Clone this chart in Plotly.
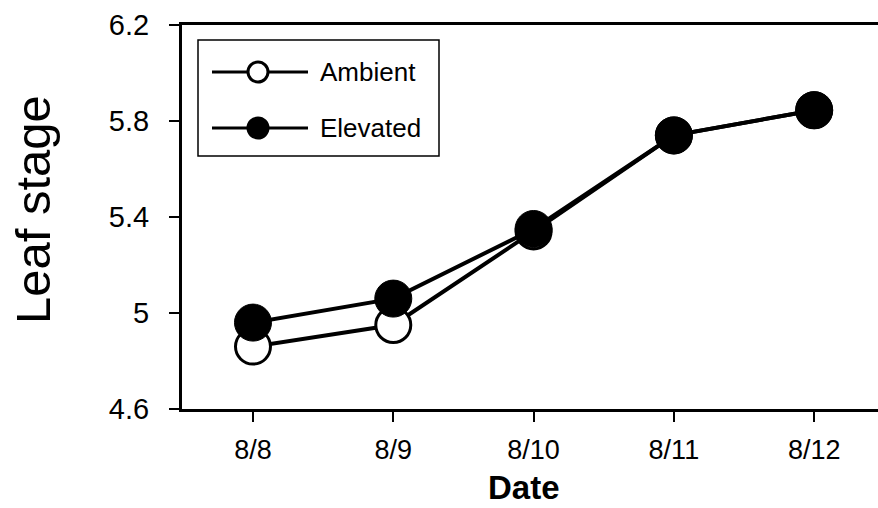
import plotly.graph_objects as go

dates = ["8/8", "8/9", "8/10", "8/11", "8/12"]
ambient = [4.86, 4.95, 5.34, 5.74, 5.845]
elevated = [4.96, 5.06, 5.35, 5.74, 5.845]
y_ticks = [4.6, 5.0, 5.4, 5.8, 6.2]
y_tick_text = ["4.6", "5", "5.4", "5.8", "6.2"]

W, H = 878, 508
L, R, T, B = 182, 0, 25, 99
pw, ph = W - L - R, H - T - B

# helpers: convert screenshot pixel positions to paper coordinates
def px(x):
    return (x - L) / pw

def py(y):
    return (H - B - y) / ph

FONT = "Liberation Sans, Arial, sans-serif"

fig = go.Figure()
fig.add_trace(go.Scatter(
    x=dates, y=ambient, mode="lines+markers", name="Ambient",
    line=dict(color="black", width=4),
    marker=dict(symbol="circle", size=35, color="white",
                line=dict(color="black", width=3)),
    showlegend=False,
))
fig.add_trace(go.Scatter(
    x=dates, y=elevated, mode="lines+markers", name="Elevated",
    line=dict(color="black", width=4),
    marker=dict(symbol="circle", size=37, color="black",
                line=dict(color="black", width=1)),
    showlegend=False,
))

shapes = []
annotations = []
# legend box
shapes.append(dict(type="rect", xref="paper", yref="paper",
                   x0=px(198), x1=px(439), y0=py(40), y1=py(156),
                   line=dict(color="black", width=1.5), fillcolor="white",
                   layer="above"))
for name, yy, fill in [("Ambient", 72, "white"), ("Elevated", 128, "black")]:
    shapes.append(dict(type="line", xref="paper", yref="paper",
                       x0=px(212), x1=px(308), y0=py(yy), y1=py(yy),
                       line=dict(color="black", width=3)))
    shapes.append(dict(type="circle", xref="paper", yref="paper",
                       xsizemode="pixel", ysizemode="pixel",
                       xanchor=px(258), yanchor=py(yy),
                       x0=-10, x1=10, y0=-10, y1=10,
                       line=dict(color="black", width=3), fillcolor=fill))
    annotations.append(dict(text=name, xref="paper", yref="paper",
                            x=px(318), y=py(yy), xanchor="left", yanchor="middle",
                            showarrow=False, font=dict(family=FONT, size=26, color="black")))

annotations.append(dict(text="Leaf stage", xref="paper", yref="paper",
                        x=px(33), y=py(210), textangle=-90,
                        xanchor="center", yanchor="middle", showarrow=False,
                        font=dict(family=FONT, size=49, color="black")))
annotations.append(dict(text="<b>Date</b>", xref="paper", yref="paper",
                        x=px(524), y=py(487),
                        xanchor="center", yanchor="middle", showarrow=False,
                        font=dict(family=FONT, size=33, color="black")))

fig.update_layout(
    width=W, height=H,
    margin=dict(l=L, r=R, t=T, b=B, pad=0),
    paper_bgcolor="white", plot_bgcolor="white",
    shapes=shapes, annotations=annotations,
    showlegend=False,
)
fig.update_xaxes(
    type="category", range=[-0.506, 4.455],
    showline=True, linecolor="black", linewidth=3, mirror=True,
    ticks="outside", ticklen=10, tickwidth=2, tickcolor="black",
    showgrid=False, zeroline=False,
    tickfont=dict(family=FONT, size=27, color="black"),
    ticklabelstandoff=5,
)
fig.update_yaxes(
    range=[4.6, 6.2], tickvals=y_ticks, ticktext=y_tick_text,
    showline=True, linecolor="black", linewidth=3,
    ticks="outside", ticklen=10, tickwidth=2, tickcolor="black",
    showgrid=False, zeroline=False,
    tickfont=dict(family=FONT, size=29, color="black"),
    ticklabelstandoff=14,
)

fig.write_html(
    "out.html",
    config={"displayModeBar": False},
    post_script="document.body.style.margin='0';document.body.style.overflow='hidden';",
)
